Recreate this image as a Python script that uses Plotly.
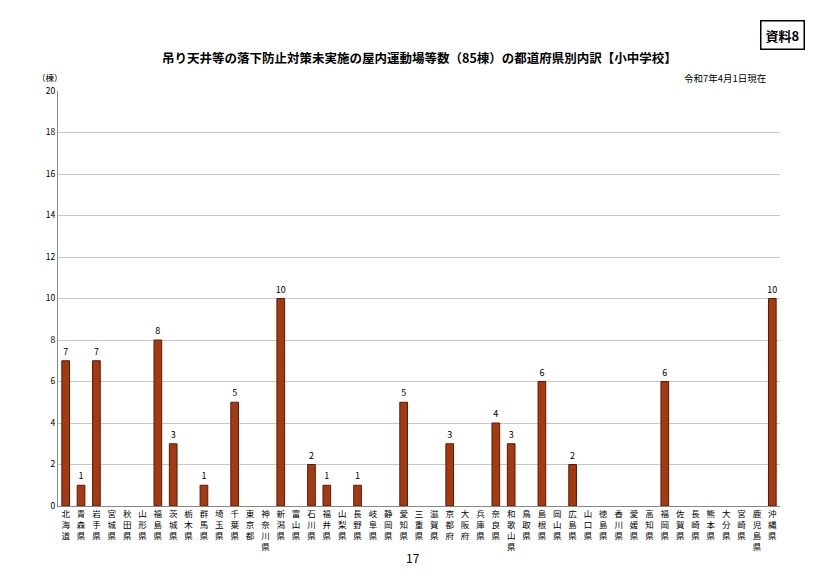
import plotly.graph_objects as go

prefs = ["北海道","青森県","岩手県","宮城県","秋田県","山形県","福島県","茨城県","栃木県","群馬県","埼玉県","千葉県","東京都","神奈川県","新潟県","富山県","石川県","福井県","山梨県","長野県","岐阜県","静岡県","愛知県","三重県","滋賀県","京都府","大阪府","兵庫県","奈良県","和歌山県","鳥取県","島根県","岡山県","広島県","山口県","徳島県","香川県","愛媛県","高知県","福岡県","佐賀県","長崎県","熊本県","大分県","宮崎県","鹿児島県","沖縄県"]
values = [7,1,7,0,0,0,8,3,0,1,0,5,0,0,10,0,2,1,0,1,0,0,5,0,0,3,0,0,4,3,0,6,0,2,0,0,0,0,0,6,0,0,0,0,0,0,10]
yticks = [0,2,4,6,8,10,12,14,16,18,20]

xlabels = ["<br>".join(p) for p in prefs]
texts = [str(v) if v > 0 else "" for v in values]
yvals = [v if v > 0 else None for v in values]

FONT = "Noto Sans CJK JP"
fig = go.Figure(go.Bar(
    x=list(range(len(prefs))), y=yvals, text=texts, textposition="outside",
    textfont=dict(size=9, color="black"), cliponaxis=False, constraintext="none",
    marker=dict(color="#A33A12", line=dict(color="#5a1a05", width=1)),
    width=0.5,
))
fig.update_layout(
    width=826, height=583, paper_bgcolor="white", plot_bgcolor="white",
    margin=dict(l=50, r=54, t=83, b=85),
    font=dict(family=FONT, color="black"),
    showlegend=False, uniformtext=dict(minsize=9, mode="show"),
    xaxis=dict(tickmode="array", tickvals=list(range(len(prefs))), ticktext=xlabels,
               tickangle=0, tickfont=dict(size=8.5), range=[-0.5, len(prefs)-0.5],
               showline=True, linecolor="#888", ticks="", showgrid=False, fixedrange=True),
    yaxis=dict(range=[0,20], tickvals=yticks, tickfont=dict(size=8.5), showline=True,
               linecolor="#888", gridcolor="#c8c8c8", zeroline=False, ticks="", fixedrange=True),
    annotations=[
        dict(text="<b>吊り天井等の落下防止対策未実施の屋内運動場等数（85棟）の都道府県別内訳【小中学校】</b>",
             x=0.5, y=1.08, yanchor="middle", xref="paper", yref="paper", showarrow=False, font=dict(size=12.5)),
        dict(text="（棟）", x=-0.011, y=1.034, yanchor="middle", xref="paper", yref="paper", xanchor="center", showarrow=False, font=dict(size=8.5)),
        dict(text="令和7年4月1日現在", x=0.983, y=1.032, yanchor="middle", xref="paper", yref="paper", xanchor="right", showarrow=False, font=dict(size=9.5)),
        dict(text="<b>資料8</b>", x=1.035, y=1.135, yanchor="middle", xref="paper", yref="paper", xanchor="right", showarrow=False,
             font=dict(size=13), bordercolor="black", borderwidth=1.5, borderpad=4),
        dict(text="17", x=0.492, y=-0.123, yanchor="middle", xref="paper", yref="paper", showarrow=False, font=dict(size=12)),
    ],
)
fig.write_html("out.html")
